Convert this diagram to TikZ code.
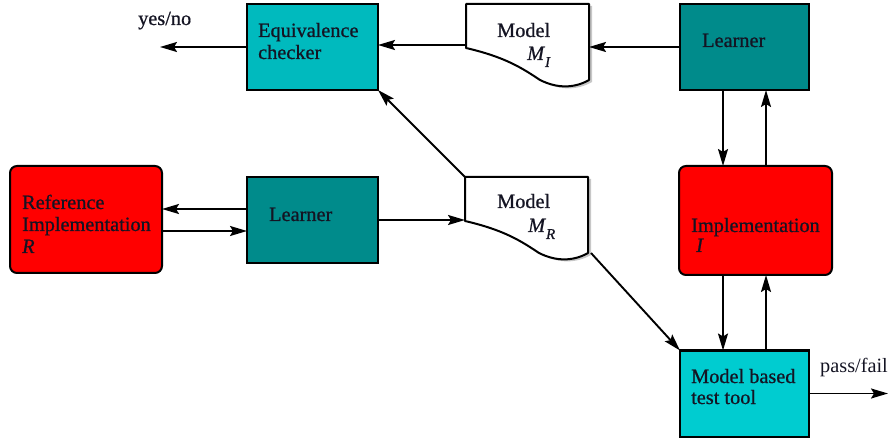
\documentclass[tikz,border=0pt]{standalone}
\usepackage{fontspec}
\setmainfont{Liberation Serif}
\newfontfamily\heavyserif[FakeBold=0.7]{Liberation Serif}
\usetikzlibrary{arrows.meta,calc}
\definecolor{eqcol}{RGB}{0,186,190}
\definecolor{mbtcol}{RGB}{0,204,208}
\definecolor{learncol}{RGB}{0,139,139}
\definecolor{implcol}{RGB}{255,0,0}
\definecolor{txtcol}{RGB}{20,20,35}
\tikzset{
  box/.style={draw=black, line width=2pt, inner sep=0pt, outer sep=0pt},
  learnbox/.style={box, fill=learncol, minimum width=129pt, minimum height=86pt},
  cyanbox/.style={box, minimum width=131pt, minimum height=86pt},
  redbox/.style={box, fill=implcol, rounded corners=7pt},
  docnode/.style={inner sep=0pt, outer sep=0pt},
  txt/.style={anchor=base west, inner sep=0pt, font=\heavyserif\fontsize{20.3}{22}\selectfont, text=txtcol},
  plaintxt/.style={txt, font=\fontsize{20.3}{22}\selectfont},
  arr/.style={line width=1.9pt, -{Stealth[length=17pt,width=10pt,inset=3pt]}},
  docline/.style={draw=black, line width=2pt, fill=white, line join=round},
  docshade/.style={fill=black!22},
  doc/.pic={
    \fill[docshade] (3,2) -- (126,2) -- (126,78) .. controls (112,86) and (95,87) .. (77,78) -- cycle;
    \path[docline] (0,0) -- (123,0) -- (123,76) .. controls (109,84) and (92,85) .. (74,76)
      .. controls (56,64) and (39,53) .. (0,44) -- cycle;
  }
}
\begin{document}
\begin{tikzpicture}[x=1pt,y=-1pt]
\useasboundingbox (0,0) rectangle (889,438);

% boxes
\node[cyanbox, fill=eqcol] (eq) at (312.5,47) {};
\node[learnbox] (learnT) at (744.5,47) {};
\node[redbox, minimum width=152pt, minimum height=107pt] (ref) at (86,219.5) {};
\node[cyanbox, fill=learncol] (learnM) at (312.5,220) {};
\node[redbox, minimum width=153pt, minimum height=109pt] (impl) at (755.5,220.5) {};
\node[box, fill=mbtcol, minimum width=129pt, minimum height=86pt] (mbt) at (744.5,393.5) {};

% documents
\pic at (466,4) {doc};
\pic at (465,177) {doc};
\node[docnode, minimum width=123pt, minimum height=82pt] (mi) at (527.5,45) {};
\node[docnode, minimum width=124pt, minimum height=82pt] (mr) at (527,218) {};

% free ends
\coordinate (yn) at (160,47);
\coordinate (pf) at (888,393.5);

% texts
\node[txt] (tyn) at (138,25) {yes/no};
\node[txt] (teq1) at (258,37) {Equivalence};
\node[txt] (teq2) at (258,59) {checker};
\node[txt] (tmi1) at (497,37) {Model};
\node[txt] (tmi2) at (527,60) {\textit{M}\raisebox{-7pt}{\fontsize{15}{15}\selectfont\textit{I}}};
\node[txt] (tlt) at (702,47) {Learner};
\node[txt] (tr1) at (22,209) {Reference};
\node[txt] (tr2) at (22,231) {Implementation};
\node[txt] (tr3) at (22,253) {\textit{R}};
\node[txt] (tlm) at (269,221) {Learner};
\node[txt] (tmr1) at (497,208) {Model};
\node[txt] (tmr2) at (528,232) {\textit{M}\raisebox{-7pt}{\fontsize{15}{15}\selectfont\textit{R}}};
\node[txt] (ti1) at (691,232) {Implementation};
\node[txt] (ti2) at (696,252) {\textit{I}};
\node[txt] (tm1) at (691,383) {Model based};
\node[txt] (tm2) at (691,404) {test tool};
\node[plaintxt] (tpf) at (820,373) {pass/fail};

% connectors
\draw[arr] (eq.west) -- (yn);
\draw[arr] (mi.west) -- (mi.west -| eq.east);
\draw[arr] (learnT.west) -- (learnT.west -| mi.east);
\draw[arr] ([xshift=-21.5pt]learnT.south) -- ([xshift=-21.5pt]learnT.south |- impl.north);
\draw[arr] ([xshift=21.5pt]learnT.south |- impl.north) -- ([xshift=21.5pt]learnT.south);
\draw[arr] ([xshift=-21.5pt]mbt.north |- impl.south) -- ([xshift=-21.5pt]mbt.north);
\draw[arr] ([xshift=21.5pt]mbt.north) -- ([xshift=21.5pt]mbt.north |- impl.south);
\draw[arr] (mbt.east) -- (pf);
\draw[arr] ([yshift=11pt]learnM.west) -- ([yshift=11pt]learnM.west -| ref.east);
\draw[arr] ([yshift=-11pt]ref.east |- learnM.west) -- ([yshift=-11pt]learnM.west);
\draw[arr] (learnM.east) -- (learnM.east -| mr.west);
\draw[arr] (mr.north west) -- (eq.south east);
\draw[arr] ([xshift=2pt,yshift=-35pt]mr.east) -- (mbt.north west);
\end{tikzpicture}
\end{document}
